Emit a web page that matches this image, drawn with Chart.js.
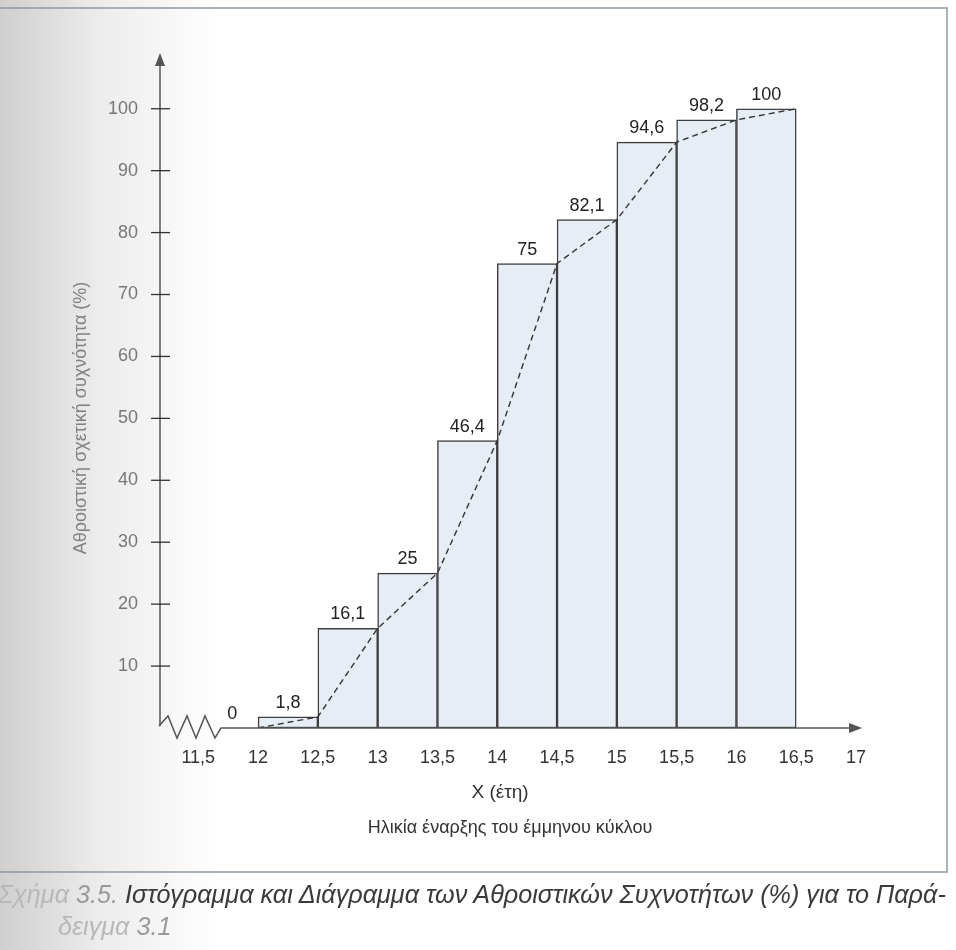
<!DOCTYPE html>
<html>
<head>
<meta charset="utf-8">
<script src="https://cdn.jsdelivr.net/npm/chart.js@4/dist/chart.umd.min.js"></script>
<style>
  html, body { margin: 0; padding: 0; background: #fff; overflow: hidden; }
  #wrap { position: relative; width: 956px; height: 950px; }
  #c { position: absolute; left: 0; top: 0; }
  .cap { position: absolute; font-family: "Liberation Sans", Arial, sans-serif; font-style: italic; font-size: 25.2px; color: #3a3a3a; white-space: nowrap; }
  .fade { color: #b8b8b8; }
  .fade2 { color: #9a9a9a; }
</style>
</head>
<body>
<div id="wrap">
  <canvas id="c" width="956" height="950"></canvas>
  <div class="cap" style="left:-2px; top:880px;"><span class="fade">Σχήμα</span> <span class="fade2">3.5.</span> Ιστόγραμμα και Διάγραμμα των Αθροιστικών Συχνοτήτων (%) για το Παρά-</div>
  <div class="cap" style="left:58px; top:912px;"><span class="fade">δειγμα</span> <span class="fade2">3.1</span></div>
</div>
<script>
// ---- data ----
const classCenters = [11.75, 12.25, 12.75, 13.25, 13.75, 14.25, 14.75, 15.25, 15.75, 16.25];
const cumPercent   = [0, 1.8, 16.1, 25, 46.4, 75, 82.1, 94.6, 98.2, 100];
const ogiveX       = [12, 12.5, 13, 13.5, 14, 14.5, 15, 15.5, 16, 16.5];
const ogiveY       = [0, 1.8, 16.1, 25, 46.4, 75, 82.1, 94.6, 98.2, 100];
const xTickValues  = [11.5, 12, 12.5, 13, 13.5, 14, 14.5, 15, 15.5, 16, 16.5, 17];
const yTickValues  = [10, 20, 30, 40, 50, 60, 70, 80, 90, 100];
const yTitle = 'Αθροιστική σχετική συχνότητα (%)';
const xTitle1 = 'X (έτη)';
const xTitle2 = 'Ηλικία έναρξης του έμμηνου κύκλου';

const fmt = v => String(v).replace('.', ',');
const FONT = '"Liberation Sans", Arial, sans-serif';

const bg = {
  id: 'bg',
  beforeDraw(chart) {
    const ctx = chart.ctx;
    ctx.save();
    const g = ctx.createLinearGradient(0, 0, 220, 0);
    g.addColorStop(0, '#cfcfcf');
    g.addColorStop(0.45, '#ececec');
    g.addColorStop(1, '#ffffff');
    ctx.fillStyle = g;
    ctx.fillRect(0, 0, chart.width, chart.height);
    ctx.strokeStyle = '#8a9aa4';
    ctx.lineWidth = 1.5;
    ctx.strokeRect(-5, 8, 952, 864);
    ctx.restore();
  }
};

const decor = {
  id: 'decor',
  afterDatasetsDraw(chart) {
    const ctx = chart.ctx;
    const xs = chart.scales.x, ys = chart.scales.y;
    const ax = xs.getPixelForValue(xs.min), ay = ys.getPixelForValue(0);
    const top = chart.chartArea.top, right = chart.chartArea.right;
    ctx.save();
    ctx.strokeStyle = '#555';
    ctx.fillStyle = '#555';
    ctx.lineWidth = 1.5;
    // y axis
    ctx.beginPath();
    ctx.moveTo(ax, ay - 2);
    ctx.lineTo(ax, top + 10);
    ctx.stroke();
    ctx.beginPath();
    ctx.moveTo(ax, top);
    ctx.lineTo(ax - 5, top + 13);
    ctx.lineTo(ax + 5, top + 13);
    ctx.closePath();
    ctx.fill();
    // zigzag break
    ctx.beginPath();
    ctx.moveTo(ax - 1, ay - 2);
    const zz = [[8, -12], [17, 10], [27, -12], [36, 10], [45, -12], [55, 10], [61, 0]];
    zz.forEach(p => ctx.lineTo(ax + p[0], ay + p[1]));
    ctx.lineTo(right - 8, ay);
    ctx.stroke();
    ctx.beginPath();
    ctx.moveTo(right, ay);
    ctx.lineTo(right - 13, ay - 5);
    ctx.lineTo(right - 13, ay + 5);
    ctx.closePath();
    ctx.fill();
    // y tick marks
    ctx.strokeStyle = '#333';
    ctx.lineWidth = 1.3;
    yTickValues.forEach(v => {
      const py = ys.getPixelForValue(v);
      ctx.beginPath();
      ctx.moveTo(ax - 9, py);
      ctx.lineTo(ax + 10, py);
      ctx.stroke();
    });
    // bar value labels
    ctx.fillStyle = '#222';
    ctx.font = '18px ' + FONT;
    ctx.textAlign = 'center';
    ctx.textBaseline = 'bottom';
    classCenters.forEach((c, i) => {
      const px = xs.getPixelForValue(c);
      const py = ys.getPixelForValue(cumPercent[i]);
      ctx.fillText(fmt(cumPercent[i]), px + (i === 0 ? 4 : 0), py - 5);
    });
    // titles
    ctx.textBaseline = 'middle';
    ctx.fillStyle = '#333';
    ctx.font = '19px ' + FONT;
    ctx.fillText(xTitle1, 500, 793);
    ctx.font = '18px ' + FONT;
    ctx.fillText(xTitle2, 510, 828);
    ctx.save();
    ctx.translate(81, 418);
    ctx.rotate(-Math.PI / 2);
    ctx.fillStyle = '#808080';
    ctx.font = '18px ' + FONT;
    ctx.fillText(yTitle, 0, 0);
    ctx.restore();
    ctx.restore();
  }
};

new Chart(document.getElementById('c'), {
  data: {
    datasets: [
      {
        type: 'line',
        data: ogiveX.map((x, i) => ({ x: x, y: ogiveY[i] })),
        borderColor: '#333',
        borderWidth: 1.4,
        borderDash: [6, 4],
        pointRadius: 0,
        fill: false,
        tension: 0,
        order: 0
      },
      {
        type: 'bar',
        data: classCenters.map((x, i) => ({ x: x, y: cumPercent[i] })),
        backgroundColor: '#e6edf5',
        borderColor: '#3e3e3e',
        borderWidth: 1.5,
        borderSkipped: false,
        barPercentage: 1,
        categoryPercentage: 1,
        order: 1
      }
    ]
  },
  options: {
    responsive: false,
    animation: false,
    layout: { padding: { left: 0, right: 94, top: 53, bottom: 0 } },
    plugins: { legend: { display: false }, tooltip: { enabled: false } },
    scales: {
      x: {
        type: 'linear',
        offset: false,
        min: 11.18,
        max: 17.05,
        grid: { display: false, drawTicks: false, offset: false },
        border: { display: false },
        afterBuildTicks: s => { s.ticks = xTickValues.map(v => ({ value: v })); },
        afterFit: s => { s.height = 222; s.paddingLeft = 0; s.paddingRight = 0; },
        ticks: {
          autoSkip: false,
          maxRotation: 0,
          padding: 19,
          color: '#333',
          font: { family: FONT, size: 18 },
          callback: v => fmt(v)
        }
      },
      y: {
        min: 0,
        max: 109,
        grid: { display: false, drawTicks: false },
        border: { display: false },
        afterBuildTicks: s => { s.ticks = yTickValues.map(v => ({ value: v })); },
        afterFit: s => { s.width = 160; },
        ticks: {
          padding: 22,
          color: '#777',
          font: { family: FONT, size: 18 },
          callback: v => fmt(v)
        }
      }
    }
  },
  plugins: [bg, decor]
});
</script>
</body>
</html>
